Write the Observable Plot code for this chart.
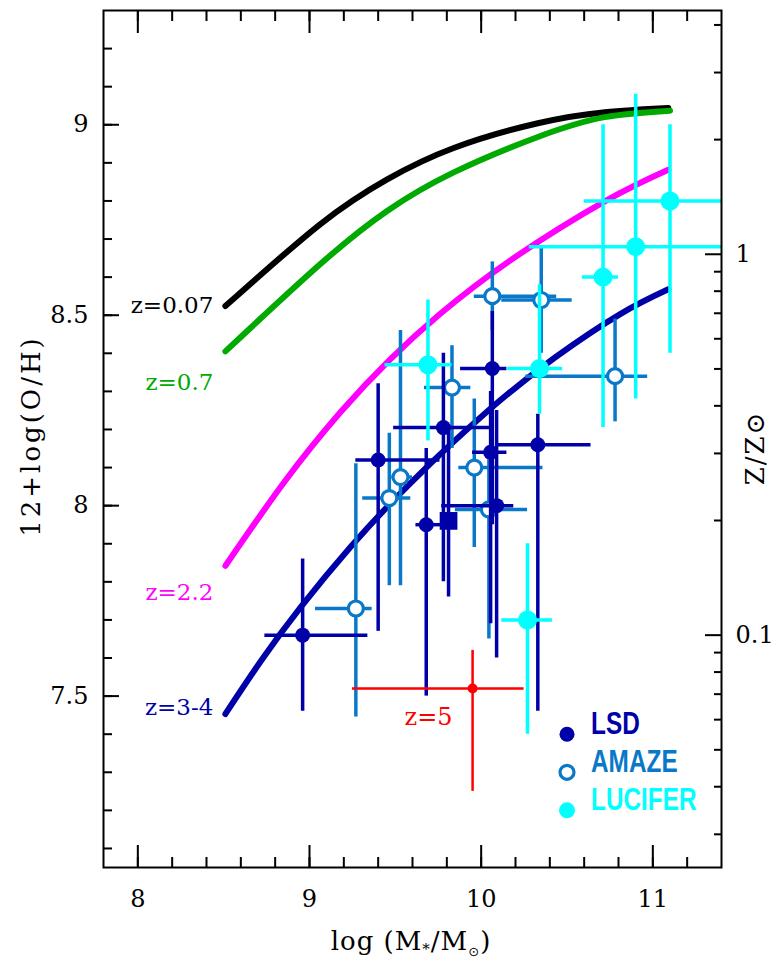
<!DOCTYPE html>
<html><head><meta charset="utf-8">
<script src="https://cdn.jsdelivr.net/npm/d3@7"></script>
<script src="https://cdn.jsdelivr.net/npm/@observablehq/plot@0.6"></script>
<style>
html,body{margin:0;padding:0;background:#fff;}
#chart svg{display:block;}
</style>
</head><body><div id="chart"></div>
<script>
// ---- Model curves ----
const curveLabels = ["z=0.07", "z=0.7", "z=2.2", "z=3-4"];
const curveColors = ["#000000", "#00aa00", "#ff00ff", "#0000a8"];
const curveLabelOH = [8.524, 8.322, 7.772, 7.471];
const z007Mass = [8.51, 9.06, 9.45, 9.84, 10.33, 10.72, 11.09];
const z007OH   = [8.524, 8.738, 8.856, 8.939, 9.004, 9.033, 9.044];
const z07Mass  = [8.51, 9.06, 9.45, 9.84, 10.33, 10.72, 11.10];
const z07OH    = [8.405, 8.633, 8.773, 8.875, 8.968, 9.020, 9.037];
const z22Mass  = [8.51, 8.85, 9.18, 9.47, 9.76, 10.17, 10.72, 11.09];
const z22OH    = [7.842, 8.060, 8.245, 8.384, 8.503, 8.644, 8.799, 8.882];
const z34Mass  = [8.51, 8.72, 8.95, 9.24, 9.59, 10.04, 10.43, 10.81, 11.09];
const z34OH    = [7.453, 7.594, 7.734, 7.892, 8.060, 8.249, 8.389, 8.503, 8.568];

// ---- LSD (filled dark blue circles) ----
const lsdMass   = [8.96, 9.40, 9.68, 9.78, 10.065, 10.055, 10.09, 10.33];
const lsdOH     = [7.66, 8.12, 7.95, 8.205, 8.36, 8.14, 8.00, 8.16];
const lsdMassLo = [8.74, 9.27, 9.62, 9.49, 9.88, 9.95, 9.77, 10.09];
const lsdMassHi = [9.34, 9.76, 9.77, 10.06, 10.15, 10.15, 10.19, 10.64];
const lsdOHLo   = [7.46, 7.67, 7.50, 7.80, 7.95, 7.69, 7.60, 7.46];
const lsdOHHi   = [7.86, 8.32, 8.15, 8.40, 8.51, 8.30, 8.25, 8.24];
// stacked LSD (square)
const stackMass = [9.81], stackOH = [7.96];
const stackMassLo = [9.77], stackMassHi = [9.85];
const stackOHLo = [7.76], stackOHHi = [8.21];

// ---- AMAZE (open circles) ----
const amzMass   = [9.27, 9.465, 9.53, 9.83, 9.96, 10.045, 10.065, 10.35, 10.78];
const amzOH     = [7.73, 8.02, 8.075, 8.31, 8.10, 7.99, 8.55, 8.54, 8.34];
const amzMassLo = [9.035, 9.31, 9.48, 9.67, 9.87, 9.85, 9.96, 10.12, 10.26];
const amzMassHi = [9.365, 9.59, 9.60, 9.94, 10.36, 10.27, 10.44, 10.53, 10.97];
const amzOHLo   = [7.445, 7.79, 7.79, 8.15, 7.89, 7.65, 8.46, 8.40, 8.22];
const amzOHHi   = [8.11, 8.19, 8.46, 8.42, 8.28, 8.12, 8.64, 8.68, 8.49];

// ---- LUCIFER (cyan filled) ----
const lucMass   = [9.69, 10.27, 10.34, 10.71, 10.90, 11.10];
const lucOH     = [8.37, 7.70, 8.36, 8.60, 8.68, 8.80];
const lucMassLo = [9.44, 10.12, 10.155, 10.59, 10.28, 10.60];
const lucMassHi = [9.83, 10.415, 10.475, 10.80, 11.50, 11.50];
const lucOHLo   = [8.17, 7.40, 8.24, 8.205, 8.28, 8.40];
const lucOHHi   = [8.54, 7.90, 8.58, 9.00, 9.08, 9.00];

// ---- z=5 (red) ----
const z5Mass = [9.95], z5OH = [7.52];
const z5MassLo = [9.25], z5MassHi = [10.25];
const z5OHLo = [7.25], z5OHHi = [7.62];

// ---- Legend ----
const legendNames  = ["LSD", "AMAZE", "LUCIFER"];
const legendColors = ["#0000a8", "#0a78c8", "#00ffff"];
const legendOH     = [7.40, 7.30, 7.20];
const legendMass   = 10.50, legendTextMass = 10.64;

// ---- Axes ----
const xMajor = [8, 9, 10, 11];
const xMinor = d3.range(40, 57).map(v => v / 5);        // 8.0 .. 11.2 step 0.2
const yMajor = [7.5, 8, 8.5, 9];
const yMinor = d3.range(71, 93).map(v => v / 10);       // 7.1 .. 9.2
const solarOH = 8.66;
const zMinorTicks = [0.03,0.04,0.05,0.06,0.07,0.08,0.09,0.2,0.3,0.4,0.5,0.6,0.7,0.8,0.9,2,3,4];
const zMajorTicks = [0.1, 1];

const NAVY = "#0000a8", AMZ = "#0a78c8", CYAN = "#00ffff", RED = "#ff0000";
const SERIF = "DejaVu Serif, serif";

function rows(m, o, mLo, mHi, oLo, oHi) {
  return m.map((v, i) => ({m: v, oh: o[i], mLo: mLo[i], mHi: mHi[i], oLo: oLo[i], oHi: oHi[i]}));
}
function curveRows(ms, os, k) { return ms.map((v, i) => ({m: v, oh: os[i], k})); }
function errBars(data, color, w) {
  return [
    Plot.ruleY(data, {y: "oh", x1: "mLo", x2: "mHi", stroke: color, strokeWidth: w, clip: true}),
    Plot.ruleX(data, {x: "m", y1: "oLo", y2: "oHi", stroke: color, strokeWidth: w, clip: true})
  ];
}

const lsd = rows(lsdMass, lsdOH, lsdMassLo, lsdMassHi, lsdOHLo, lsdOHHi);
const stack = rows(stackMass, stackOH, stackMassLo, stackMassHi, stackOHLo, stackOHHi);
const amz = rows(amzMass, amzOH, amzMassLo, amzMassHi, amzOHLo, amzOHHi);
const luc = rows(lucMass, lucOH, lucMassLo, lucMassHi, lucOHLo, lucOHHi);
const z5 = rows(z5Mass, z5OH, z5MassLo, z5MassHi, z5OHLo, z5OHHi);
const curves = [
  curveRows(z007Mass, z007OH, 0), curveRows(z07Mass, z07OH, 1),
  curveRows(z22Mass, z22OH, 2), curveRows(z34Mass, z34OH, 3)
];
const labelRows = curveLabels.map((t, i) => ({t, oh: curveLabelOH[i], c: curveColors[i]}));
const legendRows = legendNames.map((t, i) => ({t, oh: legendOH[i], c: legendColors[i]}));

const noText = () => "";
const chart = Plot.plot({
  width: 782, height: 961,
  marginLeft: 103, marginRight: 61, marginTop: 10, marginBottom: 94,
  x: {domain: [7.8, 11.4], label: null},
  y: {domain: [7.05, 9.3], label: null},
  style: {fontFamily: SERIF, background: "#fff"},
  marks: [
    // curves
    ...curves.map((c, i) => Plot.line(c, {x: "m", y: "oh", stroke: curveColors[i], strokeWidth: 6, curve: "natural"})),
    Plot.text(labelRows, {x: 8.44, y: "oh", text: "t", fill: "c", textAnchor: "end", fontSize: 23, fontFamily: SERIF}),
    // AMAZE
    ...errBars(amz, AMZ, 3.5),
    Plot.dot(amz, {x: "m", y: "oh", r: 7.5, fill: "white", stroke: AMZ, strokeWidth: 3.2}),
    // LSD
    ...errBars(lsd, NAVY, 3.5),
    ...errBars(stack, NAVY, 3.5),
    Plot.dot(lsd, {x: "m", y: "oh", r: 7.5, fill: NAVY}),
    Plot.dot(stack, {x: "m", y: "oh", r: 10, symbol: "square", fill: NAVY}),
    // LUCIFER
    ...errBars(luc, CYAN, 3.5),
    Plot.dot(luc, {x: "m", y: "oh", r: 9.5, fill: CYAN}),
    // z=5
    ...errBars(z5, RED, 2.5),
    Plot.dot(z5, {x: "m", y: "oh", r: 5, fill: RED}),
    Plot.text(["z=5"], {x: 9.694, y: 7.444, text: d => d, fill: RED, fontSize: 24, fontFamily: SERIF}),
    // legend
    Plot.dot(legendRows.slice(0, 1), {x: legendMass, y: "oh", r: 7.5, fill: "c"}),
    Plot.dot(legendRows.slice(1, 2), {x: legendMass, y: "oh", r: 7, fill: "white", stroke: "c", strokeWidth: 3.2}),
    Plot.dot(legendRows.slice(2, 3), {x: legendMass, y: "oh", r: 8, fill: "c"}),
    Plot.text(legendRows, {x: legendTextMass, y: "oh", text: "t", fill: "c", textAnchor: "start", fontSize: 28, fontWeight: "bold", fontFamily: "Liberation Sans, Arial, sans-serif"}),
    // frame and ticks
    Plot.frame({stroke: "black", strokeWidth: 2}),
    Plot.axisX({anchor: "bottom", ticks: xMinor, tickSize: -10, tickFormat: noText, strokeWidth: 2, label: null}),
    Plot.axisX({anchor: "bottom", ticks: xMajor, tickSize: -22, tickFormat: noText, strokeWidth: 2, label: null}),
    Plot.axisX({anchor: "top", ticks: xMinor, tickSize: -10, tickFormat: noText, strokeWidth: 2, label: null}),
    Plot.axisX({anchor: "top", ticks: xMajor, tickSize: -22, tickFormat: noText, strokeWidth: 2, label: null}),
    Plot.axisX({anchor: "bottom", ticks: xMajor, tickSize: 0, tickPadding: 22, fontSize: 24, fontFamily: SERIF, fill: "black", label: null, tickFormat: d => String(d)}),
    Plot.axisY({anchor: "left", ticks: yMinor, tickSize: -9, tickFormat: noText, strokeWidth: 2, label: null}),
    Plot.axisY({anchor: "left", ticks: yMajor, tickSize: -16, tickFormat: noText, strokeWidth: 2, label: null}),
    Plot.axisY({anchor: "left", ticks: yMajor, tickSize: 0, tickPadding: 15, fontSize: 24, fontFamily: SERIF, fill: "black", label: null, tickFormat: d => String(d)}),
    Plot.axisY({anchor: "right", ticks: zMinorTicks.map(z => solarOH + Math.log10(z)), tickSize: -8, tickFormat: noText, strokeWidth: 2, label: null}),
    Plot.axisY({anchor: "right", ticks: zMajorTicks.map(z => solarOH + Math.log10(z)), tickSize: -17, tickFormat: noText, strokeWidth: 2, label: null}),
    Plot.axisY({anchor: "right", ticks: zMajorTicks.map(z => solarOH + Math.log10(z)), tickSize: 0, tickPadding: 14, fontSize: 24, fontFamily: SERIF, fill: "black", label: null,
      tickFormat: d => String(+Math.pow(10, d - solarOH).toPrecision(1))})
  ]
});
document.getElementById("chart").appendChild(chart);

const svg = d3.select(chart);
// condensed / tall legend lettering like the original
svg.selectAll("text").filter(function() { return legendNames.includes(this.textContent); })
  .each(function() {
    const t = this.getAttribute("transform") || "";
    const x = +this.getAttribute("x") || 0, y = +this.getAttribute("y") || 0;
    this.removeAttribute("x"); this.removeAttribute("y");
    this.setAttribute("transform", `${t} translate(${x},${y}) scale(0.87,1.15)`);
  });

// axis titles (with sub-scripts)
svg.append("text")
  .attr("transform", "translate(31,436) rotate(-90)")
  .attr("text-anchor", "middle").attr("dy", "0.35em")
  .attr("font-family", SERIF).attr("font-size", 26).attr("letter-spacing", 3).attr("fill", "black")
  .text("12+log(O/H)");
const xl = svg.append("text")
  .attr("x", 411).attr("y", 950).attr("text-anchor", "middle")
  .attr("font-family", SERIF).attr("font-size", 26).attr("letter-spacing", 1).attr("fill", "black");
xl.append("tspan").text("log (M");
xl.append("tspan").attr("font-size", 15).attr("dy", 4).text("*");
xl.append("tspan").attr("dy", -4).text("/M");
xl.append("tspan").attr("font-size", 13).attr("dy", 6).attr("font-family", "DejaVu Sans, sans-serif").text("\u2299");
xl.append("tspan").attr("dy", -6).text(")");
svg.append("text")
  .attr("transform", "translate(755,448) rotate(-90)")
  .attr("text-anchor", "middle").attr("dy", "0.35em")
  .attr("font-family", SERIF).attr("font-size", 26).attr("letter-spacing", 2).attr("fill", "black")
  .text("Z/Z\u2299");
</script>
</body></html>
